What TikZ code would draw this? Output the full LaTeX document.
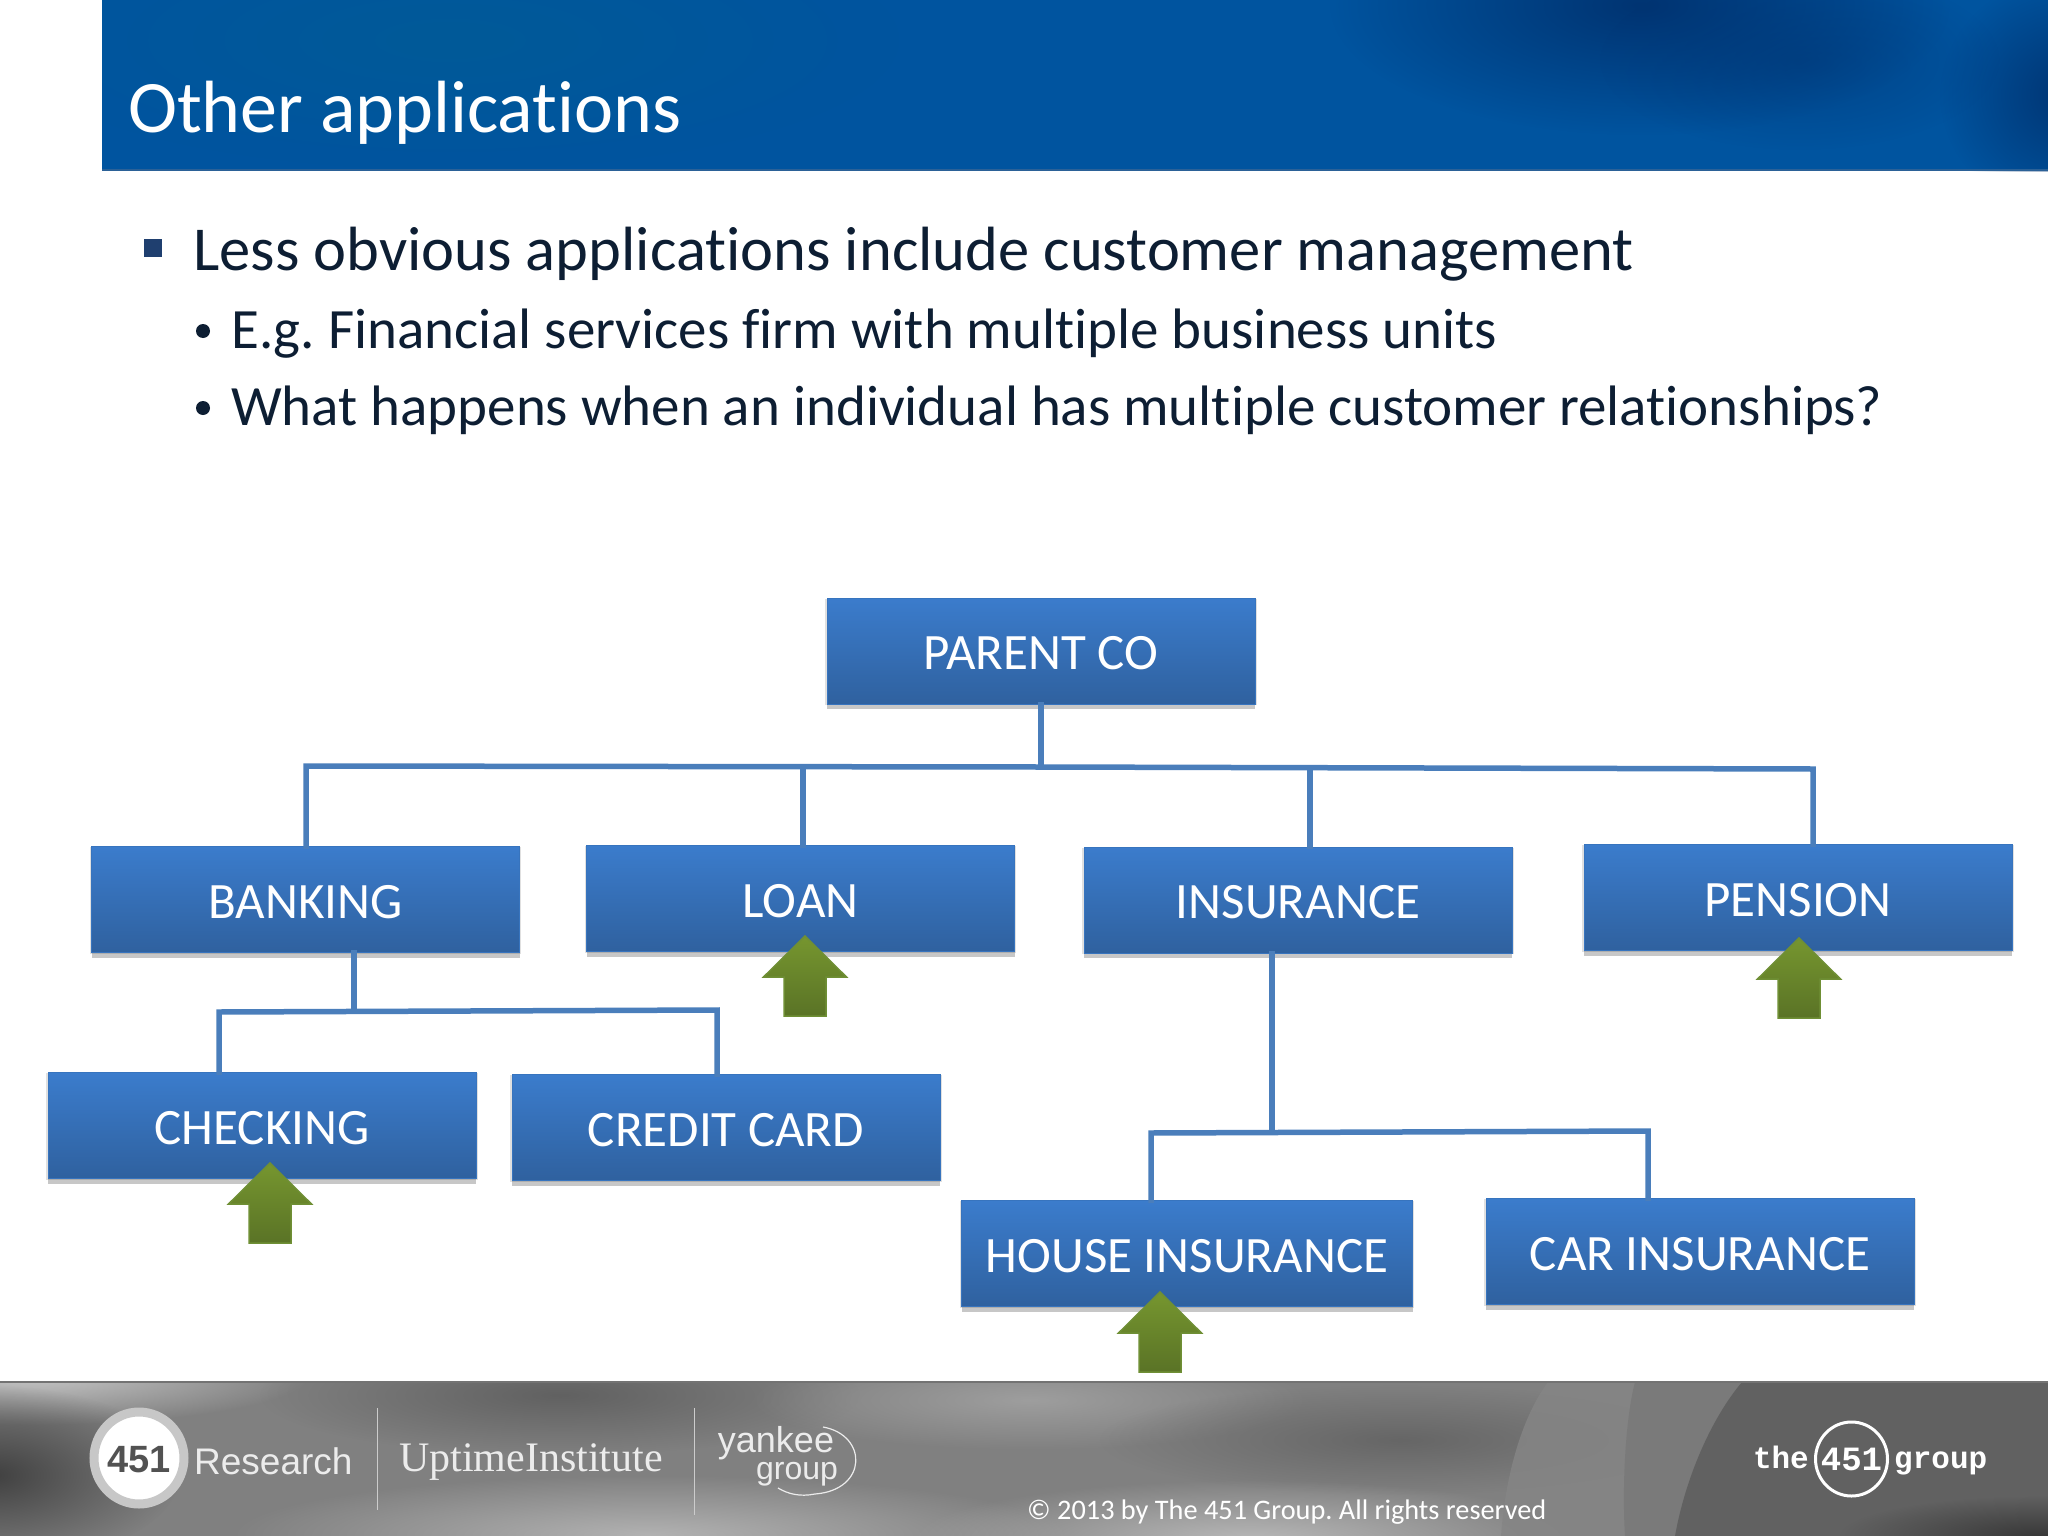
\documentclass[tikz,border=0pt]{standalone}
\usepackage{fontspec}
\setmainfont[Ligatures=NoCommon,Contextuals=NoAlternate]{Carlito}
\newfontfamily\serifl{Liberation Serif}
\newfontfamily\monol{Liberation Mono}
\newfontfamily\sansl{Liberation Sans}
\usetikzlibrary{shadows,fadings,calc}
\definecolor{boxtop}{HTML}{3B7CCC}
\definecolor{boxbot}{HTML}{2F619F}
\definecolor{linec}{HTML}{4A7EBB}
\definecolor{arrtop}{HTML}{76962F}
\definecolor{arrbot}{HTML}{5A7326}
\definecolor{arredge}{HTML}{6F8F35}
\definecolor{headblue}{HTML}{00549F}
\definecolor{headdark}{HTML}{003472}
\definecolor{headteal}{HTML}{005A98}
\definecolor{headline}{HTML}{2B6197}
\definecolor{txtd}{HTML}{0D1E33}
\definecolor{bul}{HTML}{1F3F6F}
\definecolor{logow}{HTML}{ECECEC}
\tikzfading[name=softblob,inner color=transparent!0,outer color=transparent!100]
\tikzset{
  x=1pt,y=-1pt,
  orgbox/.style={rectangle,minimum height=106pt,minimum width=428pt,inner sep=0pt,
    top color=boxtop,bottom color=boxbot,draw=boxtop!70!boxbot,line width=1pt,
    text=white,font=\fontsize{51}{54}\selectfont,text height=37pt,text depth=0pt,
    general shadow={shadow scale=1.008,shadow yshift=-1pt,fill=black,opacity=.12},
    general shadow={shadow yshift=-5pt,fill=black,opacity=.22}},
  link/.style={draw=linec,line width=5.5pt,line cap=rect},
  uparrow/.style={top color=arrtop,bottom color=arrbot,draw=arredge,line width=1.5pt,line join=miter},
  blob/.style={fill=#1,path fading=softblob,draw=none},
  head/.style={anchor=base west,text=white,font=\fontsize{74}{76}\selectfont,inner sep=0pt},
  lvlone/.style={anchor=base west,text=txtd,font=\fontsize{62.5}{64}\selectfont,inner sep=0pt},
  lvltwo/.style={anchor=base west,text=txtd,font=\fontsize{57}{60}\selectfont,inner sep=0pt},
  copyr/.style={anchor=base west,text=white,font=\fontsize{28.3}{30}\selectfont,inner sep=0pt},
  logosans/.style={inner sep=0pt,text=logow,font=\sansl\fontsize{#1}{#1}\selectfont},
  logotype/.style={inner sep=0pt,text=white,font=\monol\bfseries\fontsize{#1}{#1}\selectfont},
}
\newcommand{\uparr}[2]{% tip x, tip y
  \path[uparrow] (#1,#2+1) -- ++(41.5,41) -- ++(-20.5,0) -- ++(0,39) -- ++(-42,0) -- ++(0,-39) -- ++(-20.5,0) -- cycle;}
\begin{document}
\frenchspacing
\begin{tikzpicture}
\useasboundingbox (0,0) rectangle (2048,1536);
\fill[white] (0,0) rectangle (2048,1536);
% header band
\begin{scope}
\clip (102,0) rectangle (2048,171);
\fill[headblue] (102,0) rectangle (2048,171);
\fill[blob=headteal] (450,40) ellipse (450 and 130);
\fill[blob=headdark] (1640,5) ellipse (310 and 130);
\fill[blob=headdark] (2070,95) ellipse (130 and 120);
\fill[blob=headdark,opacity=.5] (1800,60) ellipse (200 and 90);
\fill[headline] (102,169) rectangle (2048,171);
\end{scope}
\node[head] (title) at (128,132) {Other applications};
% bullets
\fill[bul] (144,239) rectangle (162,257);
\node[lvlone] (l1) at (193,270) {Less obvious applications include customer management};
\fill[txtd] (203,331) circle (7);
\node[lvltwo] (l2) at (231,348) {E.g. Financial services firm with multiple business units};
\fill[txtd] (203,408) circle (7);
\node[lvltwo] (l3) at (231,425) {What happens when an individual has multiple customer relationships?};
% footer
\begin{scope}
\clip (0,1382) rectangle (2048,1536);
\fill[black!50] (0,1382) rectangle (2048,1536);
\fill[blob=black!22] (30,1375) ellipse (280 and 50);
\fill[blob=black!75] (-10,1475) ellipse (190 and 90);
\fill[blob=black!62] (560,1395) ellipse (300 and 60);
\fill[blob=black!30] (650,1535) ellipse (420 and 60);
\fill[blob=black!38] (1030,1400) ellipse (280 and 50);
\fill[blob=black!60] (1400,1440) ellipse (300 and 55);
\fill[blob=black!28] (1250,1540) ellipse (340 and 60);
\fill[black!48,opacity=.85] (1548,1382) .. controls (1520,1420) and (1505,1480) .. (1501,1536) -- (2048,1536) -- (2048,1382) -- cycle;
\fill[black!52] (1635,1382) .. controls (1625,1420) and (1622,1490) .. (1625,1536) -- (2048,1536) -- (2048,1382) -- cycle;
\fill[black!62] (1742,1382) .. controls (1710,1420) and (1685,1480) .. (1675,1536) -- (2048,1536) -- (2048,1382) -- cycle;
\fill[blob=black!78] (2040,1536) ellipse (200 and 40);
\end{scope}
\draw[black!55,line width=2pt] (0,1382) -- (2048,1382);
% logos in footer
\draw[black!22,line width=9pt,fill=white] (139,1458) ellipse (45 and 46);
\node[inner sep=0pt,text=black!68,font=\sansl\bfseries\fontsize{38}{38}\selectfont] (l451) at (139,1460) {451};
\node[anchor=west,logosans=37] (lres) at (194,1461) {Research};
\draw[black!20,line width=1pt] (377,1408) -- (377,1510);
\node[anchor=west,inner sep=0pt,text=logow,font=\serifl\fontsize{42}{42}\selectfont] (lup) at (399,1462) {UptimeInstitute};
\draw[black!20,line width=1pt] (694,1408) -- (694,1515);
\node[logosans=36] (lyan) at (776,1443) {yankee};
\node[logosans=32] (lgrp) at (797,1474) {group};
\draw[logow,line width=1.2pt] (823,1427) .. controls (868,1435) and (868,1490) .. (815,1494) .. controls (800,1497) and (788,1494) .. (778,1488);
\node[copyr] (copy) at (1027,1519) {© 2013 by The 451 Group. All rights reserved};
\node[anchor=base east,logotype=31] (lthe) at (1809,1468) {the};
\draw[white,line width=3pt] (1851.5,1459) ellipse (36 and 37);
\node[anchor=base,logotype=34] (l451b) at (1851.5,1470) {451};
\node[anchor=base west,logotype=31] (lgroup) at (1894,1468) {group};
% org boxes
\node[orgbox] (parent) at (1041,651) {PARENT CO};
\node[orgbox] (banking) at (305.5,899.5) {BANKING};
\node[orgbox] (loan) at (800.5,898.5) {LOAN};
\node[orgbox] (insurance) at (1298,900) {INSURANCE};
\node[orgbox] (pension) at (1798,897.5) {PENSION};
\node[orgbox] (checking) at (262,1125.5) {CHECKING};
\node[orgbox] (credit) at (726,1127.5) {CREDIT CARD};
\node[orgbox,minimum width=451pt] (house) at (1187,1253.5) {HOUSE INSURANCE};
\node[orgbox] (car) at (1700,1251.5) {CAR INSURANCE};
% connectors
\coordinate (busA) at (1041,767);
\coordinate (busL) at (306,766);
\coordinate (busR) at (1813,769);
\path[link] (parent.south -| busA) -- (busA);
\path[link] (banking.north -| busL) -- (busL) -- (busA) -- (busR) -- (pension.north -| busR);
\coordinate (dropLoan) at (803,767);
\coordinate (dropIns) at (1310,768);
\path[link] (dropLoan) -- (loan.north -| dropLoan);
\path[link] (dropIns) -- (insurance.north -| dropIns);
\coordinate (bankJ) at (354,1010);
\coordinate (bankL) at (219,1012);
\coordinate (bankR) at (717,1010);
\path[link] (banking.south -| bankJ) -- (bankJ);
\path[link] (checking.north -| bankL) -- (bankL) -- (bankR) -- (credit.north -| bankR);
\coordinate (insJ) at (1272,1132);
\coordinate (insL) at (1151,1133);
\coordinate (insR) at (1648,1131);
\path[link] (insurance.south -| insJ) -- (insJ);
\path[link] (house.north -| insL) -- (insL) -- (insR) -- (car.north -| insR);
% green arrows
\uparr{270}{1162}
\uparr{805}{935}
\uparr{1799}{937}
\uparr{1160}{1291}
\end{tikzpicture}
\end{document}
